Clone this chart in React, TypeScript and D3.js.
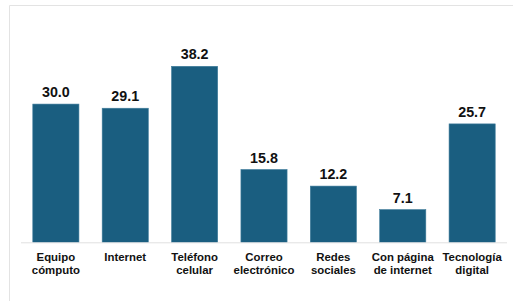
import React from "react";
import * as d3 from "d3";

const categories: string[][] = [
  ["Equipo", "cómputo"],
  ["Internet"],
  ["Teléfono", "celular"],
  ["Correo", "electrónico"],
  ["Redes", "sociales"],
  ["Con página", "de internet"],
  ["Tecnología", "digital"],
];
const values: number[] = [30.0, 29.1, 38.2, 15.8, 12.2, 7.1, 25.7];

const W = 513;
const H = 301;
const baseY = 242.3;
const x0 = 21;
const x1 = 507;

export default function App() {
  const keys = categories.map((c) => c.join(" "));
  const x = d3.scaleBand<string>().domain(keys).range([x0, x1]).paddingInner(0.335).paddingOuter(0.17);
  const y = d3.scaleLinear().domain([0, 38.2]).range([baseY, 66.3]);
  const font = "'Liberation Sans', Arial, sans-serif";
  return (
    <svg width={W} height={H} style={{ position: "absolute", left: 0, top: 0 }}>
      <rect x={0} y={0} width={W} height={H} fill="#fff" />
      <line x1={9.5} y1={5.5} x2={W} y2={5.5} stroke="#e3e3e3" strokeWidth={1} />
      <line x1={9.5} y1={5.5} x2={9.5} y2={H} stroke="#e3e3e3" strokeWidth={1} />
      {values.map((v, i) => {
        const k = keys[i];
        const bx = x(k)!;
        const bw = x.bandwidth();
        return (
          <g key={k}>
            <rect x={bx} y={y(v)} width={bw} height={baseY - y(v)} fill="#1a5e80" stroke="#3f7c9b" strokeWidth={0.6} />
            <text
              x={bx + bw / 2}
              y={y(v) - 7}
              textAnchor="middle"
              fontFamily={font}
              fontWeight="bold"
              fontSize={14.3}
              fill="#111"
            >
              {d3.format(".1f")(v)}
            </text>
            {categories[i].map((line, j) => (
              <text
                key={j}
                x={bx + bw / 2}
                y={261 + j * 12.5}
                textAnchor="middle"
                fontFamily={font}
                fontWeight="bold"
                fontSize={11.4}
                fill="#111"
              >
                {line}
              </text>
            ))}
          </g>
        );
      })}
      <line x1={x0} y1={baseY + 0.5} x2={x1} y2={baseY + 0.5} stroke="#e0e0e0" strokeWidth={1} />
    </svg>
  );
}
